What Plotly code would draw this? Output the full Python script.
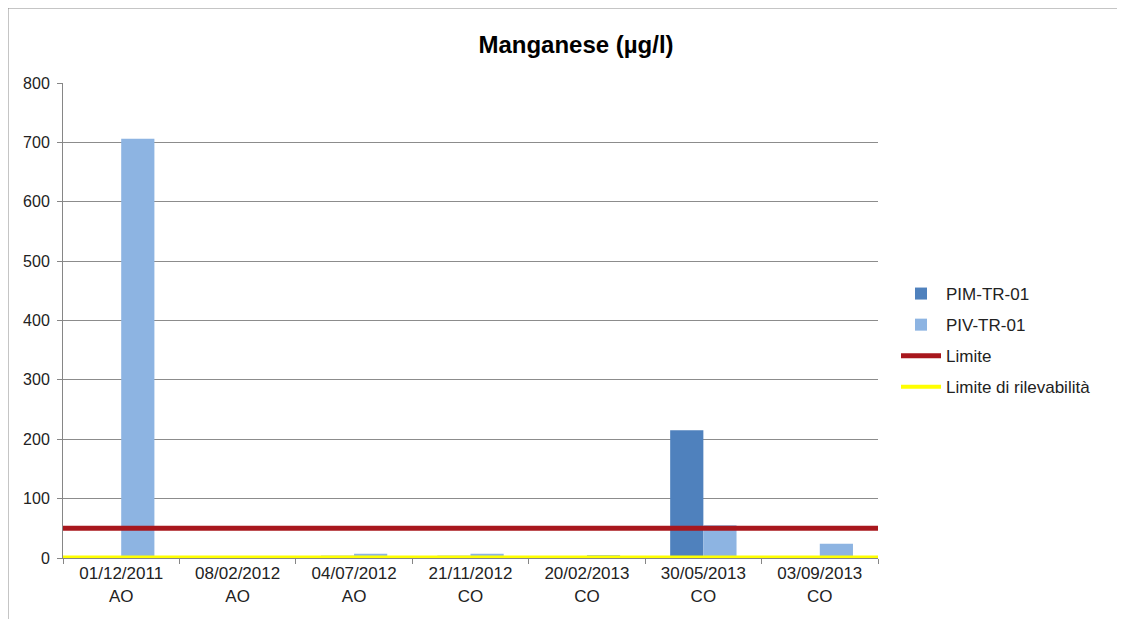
import plotly.graph_objects as go

categories = ["01/12/2011<br>AO", "08/02/2012<br>AO", "04/07/2012<br>AO", "21/11/2012<br>CO",
              "20/02/2013<br>CO", "30/05/2013<br>CO", "03/09/2013<br>CO"]
pim_values = [0, 1, 4, 4, 1, 215, 1]
piv_values = [706, 1, 7, 7, 5, 55, 24]
limite = 50
limite_rilevabilita = 1
line_span = [0, 1]

# page is rendered with an 8px body margin: work in figure coordinates
OFF = 8
W, H = 1125 - OFF, 619 - OFF


def fx(page_x):
    return page_x - OFF


def fy(page_y):
    return page_y - OFF


L, R, T, B = fx(63), W - fx(878), fy(83), H - fy(558)
pw, ph = W - L - R, H - T - B


def px(page_x):
    return (fx(page_x) - L) / pw


def py(page_y):
    return (H - B - fy(page_y)) / ph


fig = go.Figure()
fig.add_trace(go.Bar(name="PIM-TR-01", x=categories, y=pim_values, marker_color="#4F81BD",
                     marker_line_width=0, legendgroup="a"))
fig.add_trace(go.Bar(name="PIV-TR-01", x=categories, y=piv_values, marker_color="#8DB4E2",
                     marker_line_width=0, legendgroup="b"))
fig.add_trace(go.Scatter(name="Limite", x=line_span, y=[limite] * len(line_span), mode="lines",
                         line=dict(color="#A8171D", width=5), xaxis="x2", legendgroup="c"))
fig.add_trace(go.Scatter(name="Limite di rilevabilità", x=line_span,
                         y=[limite_rilevabilita] * len(line_span), mode="lines",
                         line=dict(color="#FFFF00", width=4), xaxis="x2", legendgroup="d"))

fig.update_layout(
    width=W, height=H,
    margin=dict(l=L, r=R, t=T, b=B, autoexpand=False),
    paper_bgcolor="white", plot_bgcolor="white",
    font=dict(family="Liberation Sans, Arial, sans-serif", size=17, color="#222222"),
    title=dict(text="<b>Manganese (µg/l)</b>", x=px(576), xref="paper", xanchor="center",
               y=1 - fy(45) / H, yanchor="middle", font=dict(size=24, color="#000000")),
    barmode="group", bargap=0.43, bargroupgap=0,
    showlegend=True,
    legend=dict(x=px(896), y=py(276), xanchor="left", yanchor="top", xref="paper", yref="paper",
                font=dict(size=17, color="#222222"), tracegroupgap=6, itemwidth=40,
                bgcolor="rgba(0,0,0,0)"),
    xaxis=dict(type="category", tickson="boundaries", ticks="outside", ticklen=5,
               tickcolor="#868686", showline=True, linecolor="#868686", linewidth=1,
               showgrid=False, tickfont=dict(size=17, color="#222222")),
    xaxis2=dict(overlaying="x", range=[0, 1], visible=False, fixedrange=True),
    yaxis=dict(range=[0, 800], dtick=100, showgrid=True, gridcolor="#8C8C8C", gridwidth=1,
               showline=True, linecolor="#868686", ticks="outside", ticklen=5,
               tickcolor="#868686", zeroline=False, ticklabelstandoff=4,
               tickfont=dict(size=16, color="#222222")),
    shapes=[dict(type="rect", xref="paper", yref="paper", x0=px(8), x1=px(1122), y0=py(640),
                 y1=py(8), line=dict(color="#8C8C8C", width=1), layer="below")],
)

fig.write_html("out.html")
